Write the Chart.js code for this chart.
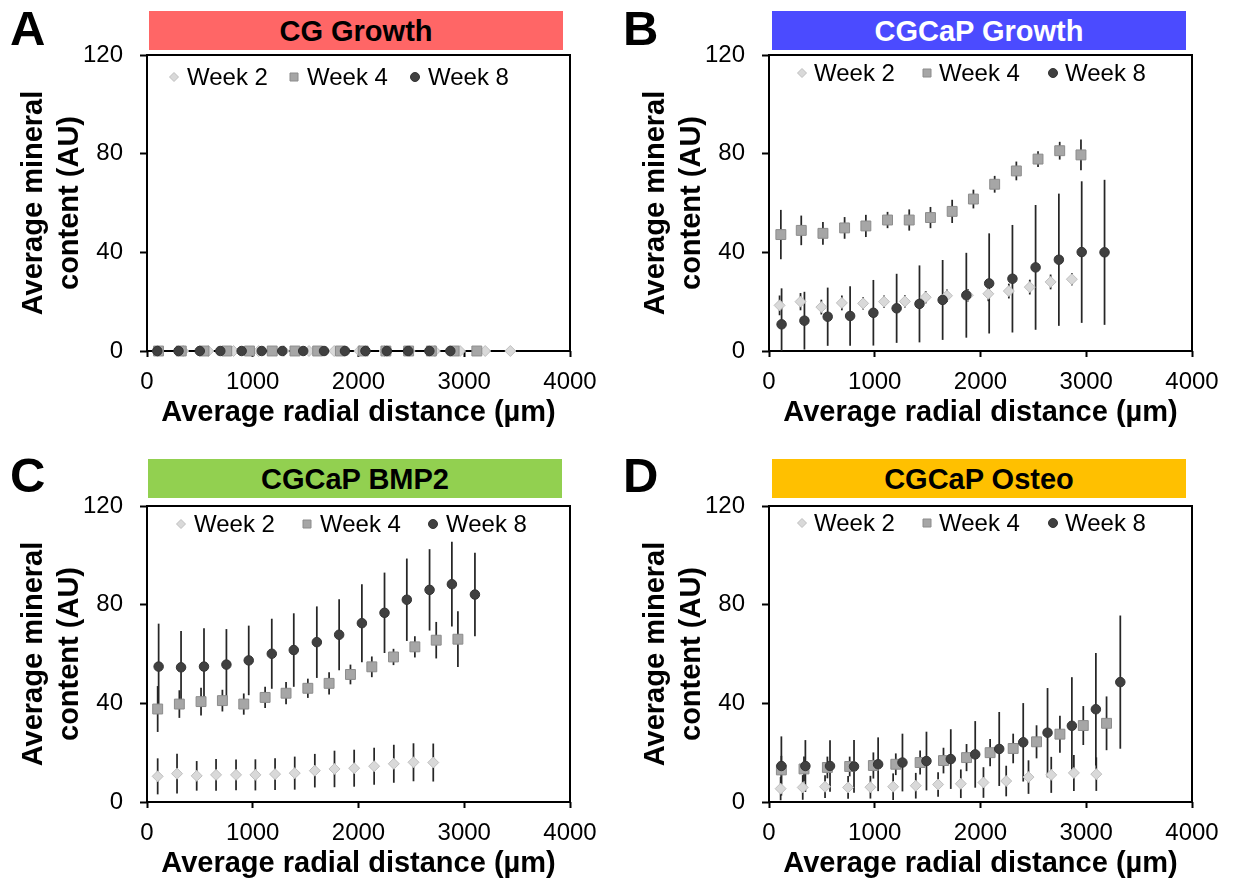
<!DOCTYPE html>
<html>
<head>
<meta charset="utf-8">
<script src="https://cdn.jsdelivr.net/npm/chart.js@4.4.1/dist/chart.umd.min.js"></script>
<style>
  html, body { margin:0; padding:0; background:#fff; width:1233px; height:884px; overflow:hidden;
    font-family:"Liberation Sans", Arial, sans-serif; }
  .panel { position:absolute; width:611px; height:430px; }
  .panel canvas { position:absolute; left:0; top:0; }
  .letter { position:absolute; font-weight:bold; font-size:49px; line-height:49px; color:#000; }
  .bar { position:absolute; width:414px; height:39px; display:flex; align-items:center; justify-content:center;
    font-weight:bold; font-size:29px; box-sizing:border-box; padding-top:2px; }
</style>
</head>
<body>
<div class="letter" style="left:10px;top:4px">A</div>
<div class="letter" style="left:623px;top:4px">B</div>
<div class="letter" style="left:10px;top:451px">C</div>
<div class="letter" style="left:623px;top:451px">D</div>

<div class="bar" id="titleA" style="left:149px;top:11px;background:#FF6666;color:#000"></div>
<div class="bar" id="titleB" style="left:772px;top:11px;background:#4B4BFF;color:#fff"></div>
<div class="bar" id="titleC" style="left:148px;top:459px;background:#92D050;color:#000"></div>
<div class="bar" id="titleD" style="left:772px;top:459px;background:#FFC000;color:#000"></div>

<div class="panel" style="left:0px;top:0px"><canvas id="cA" width="611" height="430"></canvas></div>
<div class="panel" style="left:622px;top:0px"><canvas id="cB" width="611" height="430"></canvas></div>
<div class="panel" style="left:0px;top:451px"><canvas id="cC" width="611" height="430"></canvas></div>
<div class="panel" style="left:622px;top:451px"><canvas id="cD" width="611" height="430"></canvas></div>

<script>
// ---------- data ----------
const xTickValues = [0, 1000, 2000, 3000, 4000];
const yTickValues = [0, 40, 80, 120];
const seriesNames = ['Week 2', 'Week 4', 'Week 8'];
const panelTitles = ['CG Growth', 'CGCaP Growth', 'CGCaP BMP2', 'CGCaP Osteo'];
const yAxisTitle = ['Average mineral', 'content (AU)'];
const xAxisTitle = 'Average radial distance (µm)';

// Panel A: CG Growth
const aWeek2X = [104, 342, 580, 818, 1056, 1294, 1532, 1770, 2008, 2246, 2484, 2722, 2960, 3198, 3436];
const aWeek2Y = [0, 0, 0, 0, 0, 0, 0, 0, 0, 0, 0, 0, 0, 0, 0];
const aWeek2Err = [0, 0, 0, 0, 0, 0, 0, 0, 0, 0, 0, 0, 0, 0, 0];
const aWeek4X = [109, 324, 539, 754, 969, 1184, 1399, 1614, 1829, 2044, 2259, 2474, 2689, 2904, 3119];
const aWeek4Y = [0, 0, 0, 0, 0, 0, 0, 0, 0, 0, 0, 0, 0, 0, 0];
const aWeek4Err = [0, 0, 0, 0, 0, 0, 0, 0, 0, 0, 0, 0, 0, 0, 0];
const aWeek8X = [97, 298, 499, 693, 895, 1085, 1279, 1477, 1674, 1872, 2066, 2268, 2469, 2670, 2868];
const aWeek8Y = [0, 0, 0, 0, 0, 0, 0, 0, 0, 0, 0, 0, 0, 0, 0];
const aWeek8Err = [0, 0, 0, 0, 0, 0, 0, 0, 0, 0, 0, 0, 0, 0, 0];

// Panel B: CGCaP Growth
const bWeek2X = [100, 298, 495, 689, 890, 1088, 1285, 1482, 1683, 1881, 2074, 2268, 2466, 2663, 2864];
const bWeek2Y = [18.5, 20.0, 17.8, 19.5, 19.3, 20.0, 20.1, 21.8, 22.4, 22.6, 23.2, 24.3, 25.9, 28.0, 29.1];
const bWeek2Err = [4, 3.5, 3, 3, 2.5, 2.5, 2.5, 2.5, 2.5, 2.5, 3, 3, 3, 3, 2.5];
const bWeek4X = [112, 305, 510, 715, 916, 1121, 1326, 1527, 1732, 1933, 2134, 2339, 2544, 2749, 2950];
const bWeek4Y = [47.2, 48.9, 47.7, 49.9, 50.7, 53.1, 53.1, 54.1, 56.6, 61.6, 67.6, 73.0, 77.8, 81.2, 79.5];
const bWeek4Err = [10, 6, 4.6, 4.4, 4.5, 3.3, 4.3, 4.3, 4.7, 3.8, 3.4, 3.8, 3.2, 3.6, 6.2];
const bWeek8X = [119, 335, 555, 767, 987, 1207, 1423, 1642, 1866, 2082, 2302, 2521, 2741, 2957, 3173];
const bWeek8Y = [10.8, 12.3, 13.9, 14.2, 15.5, 17.3, 19.1, 20.7, 22.6, 27.4, 29.3, 33.9, 37.0, 40.1, 40.0];
const bWeek8Err = [14.6, 11.7, 11.8, 12.1, 13.3, 14.0, 15.6, 16.2, 17.2, 20.3, 21.8, 25.3, 26.8, 28.7, 29.4];

// Panel C: CGCaP BMP2
const cWeek2X = [101, 284, 470, 653, 842, 1025, 1211, 1397, 1587, 1773, 1959, 2148, 2334, 2520, 2707];
const cWeek2Y = [10.4, 11.5, 10.6, 11.0, 11.0, 11.0, 11.3, 11.7, 12.7, 13.4, 13.7, 14.5, 15.5, 16.1, 16.0];
const cWeek2Err = [7.3, 8.1, 6.0, 6.4, 6.2, 6.3, 6.4, 6.7, 6.8, 7.4, 7.5, 7.5, 7.7, 7.7, 7.7];
const cWeek4X = [101, 306, 511, 713, 915, 1117, 1315, 1521, 1722, 1924, 2126, 2331, 2533, 2735, 2940];
const cWeek4Y = [37.7, 39.7, 40.7, 41.1, 39.7, 42.4, 44.1, 46.1, 48.1, 51.7, 54.8, 58.8, 62.9, 65.6, 66.0];
const cWeek4Err = [9.3, 5.6, 5.6, 4.4, 4.3, 4.3, 4.5, 3.9, 4.5, 4.0, 4.2, 3.3, 4.3, 7.4, 11.3];
const cWeek8X = [110, 322, 539, 751, 962, 1180, 1388, 1606, 1817, 2032, 2246, 2457, 2672, 2883, 3101];
const cWeek8Y = [54.9, 54.6, 54.9, 55.7, 57.4, 60.1, 61.6, 64.8, 67.8, 72.5, 76.7, 82.0, 86.0, 88.3, 84.1];
const cWeek8Err = [17.4, 14.7, 15.5, 14.4, 14.1, 14.2, 14.9, 14.5, 14.4, 15.8, 16.3, 16.7, 16.5, 17.2, 16.9];

// Panel D: CGCaP Osteo
const dWeek2X = [110, 319, 530, 748, 959, 1174, 1388, 1599, 1814, 2028, 2243, 2454, 2669, 2883, 3095];
const dWeek2Y = [5.4, 5.9, 6.2, 5.9, 6.0, 6.2, 6.6, 7.1, 7.4, 7.9, 8.5, 10.1, 11.0, 11.8, 11.3];
const dWeek2Err = [4.7, 5.0, 4.6, 4.6, 4.6, 5.4, 5.2, 5.0, 5.8, 6.2, 6.2, 6.8, 7.3, 7.3, 6.8];
const dWeek4X = [117, 331, 552, 763, 987, 1199, 1429, 1650, 1868, 2091, 2309, 2530, 2751, 2972, 3192];
const dWeek4Y = [13.0, 13.4, 14.0, 14.4, 14.8, 15.3, 16.0, 16.8, 18.0, 20.0, 21.7, 24.4, 27.5, 31.0, 31.9];
const dWeek4Err = [5.7, 5.0, 4.4, 4.0, 5.3, 4.4, 4.9, 5.2, 5.5, 5.5, 6.0, 6.7, 7.5, 7.9, 10.9];
const dWeek8X = [117, 344, 577, 804, 1032, 1262, 1489, 1719, 1950, 2177, 2404, 2634, 2864, 3091, 3322];
const dWeek8Y = [14.6, 14.6, 14.6, 14.4, 15.3, 16.0, 16.6, 17.4, 19.3, 21.5, 24.2, 28.1, 30.9, 37.6, 48.6];
const dWeek8Err = [12, 10.5, 10.4, 10.7, 10.9, 11.7, 11.9, 12.1, 13.5, 15.0, 15.9, 18.1, 19.7, 22.8, 27.0];

// ---------- styling ----------
const FONT = '"Liberation Sans", Arial, Helvetica, sans-serif';
Chart.defaults.font.family = FONT;
Chart.defaults.color = '#000';

const seriesStyle = [
  { pointStyle: 'rectRot', radius: 5.5, bg: '#D9D9D9', border: '#BFBFBF', order: 2 },
  { pointStyle: 'rect',    radius: 7,   bg: '#A6A6A6', border: '#8C8C8C', order: 1 },
  { pointStyle: 'circle',  radius: 4.75, bg: '#404040', border: '#333333', order: 0 }
];

function toPoints(xs, ys) { return xs.map((x, i) => ({ x: x, y: ys[i] })); }

const framePlugin = {
  id: 'frame',
  beforeDatasetsDraw(chart) {
    const { ctx, chartArea: a } = chart;
    ctx.save();
    ctx.strokeStyle = '#000';
    ctx.lineWidth = 2;
    ctx.strokeRect(a.left, a.top, a.right - a.left, a.bottom - a.top);
    ctx.restore();
  }
};

const errorBarPlugin = {
  id: 'errorBars',
  beforeDatasetsDraw(chart) {
    const { ctx, chartArea: a, scales } = chart;
    ctx.save();
    ctx.beginPath();
    ctx.rect(a.left, a.top, a.right - a.left, a.bottom - a.top);
    ctx.clip();
    ctx.strokeStyle = '#262626';
    ctx.lineWidth = 1.75;
    chart.data.datasets.forEach(ds => {
      const errs = ds.errors || [];
      ds.data.forEach((p, i) => {
        const e = errs[i];
        if (!e) return;
        const px = scales.x.getPixelForValue(p.x);
        ctx.beginPath();
        ctx.moveTo(px, scales.y.getPixelForValue(p.y - e));
        ctx.lineTo(px, scales.y.getPixelForValue(p.y + e));
        ctx.stroke();
      });
    });
    ctx.restore();
  }
};

function makeLegendPlugin(layout) {
  return {
    id: 'insideLegend',
    afterDraw(chart) {
      const { ctx, chartArea: a } = chart;
      const y = a.top + layout.dy;
      ctx.save();
      ctx.font = '24px ' + FONT;
      ctx.textBaseline = 'middle';
      seriesNames.forEach((name, i) => {
        const mx = a.left + layout.dx[i];
        const st = seriesStyle[i];
        ctx.fillStyle = st.bg;
        ctx.strokeStyle = st.border;
        ctx.lineWidth = 1;
        ctx.beginPath();
        if (i === 0) {
          const r = 4.5;
          ctx.moveTo(mx - r, y); ctx.lineTo(mx, y - r); ctx.lineTo(mx + r, y); ctx.lineTo(mx, y + r); ctx.closePath();
        } else if (i === 1) {
          ctx.rect(mx - 4, y - 4, 8, 8);
        } else {
          ctx.arc(mx, y, 4.5, 0, Math.PI * 2);
        }
        ctx.fill();
        ctx.stroke();
        ctx.fillStyle = '#000';
        ctx.fillText(name, mx + layout.gap, y + 1);
      });
      ctx.restore();
    }
  };
}

function makeChart(canvasId, series, legendLayout) {
  const datasets = series.map((s, i) => ({
    label: seriesNames[i],
    data: toPoints(s.x, s.y),
    errors: s.err,
    pointStyle: seriesStyle[i].pointStyle,
    pointRadius: seriesStyle[i].radius,
    pointBackgroundColor: seriesStyle[i].bg,
    pointBorderColor: seriesStyle[i].border,
    pointBorderWidth: 1,
    showLine: false,
    clip: false,
    order: seriesStyle[i].order
  }));
  return new Chart(document.getElementById(canvasId), {
    type: 'scatter',
    data: { datasets },
    options: {
      responsive: false,
      animation: false,
      devicePixelRatio: 1,
      events: [],
      layout: { padding: { top: 55, right: 41, left: 0, bottom: 0 } },
      plugins: { legend: { display: false }, tooltip: { enabled: false } },
      scales: {
        x: {
          type: 'linear', position: 'bottom', min: 0, max: 4000,
          afterBuildTicks: s => { s.ticks = xTickValues.map(v => ({ value: v })); },
          afterFit: s => { s.height = 79; },
          grid: { display: true, drawOnChartArea: false, drawTicks: true, tickLength: 6, tickWidth: 2, tickColor: '#000' },
          border: { display: false },
          ticks: { autoSkip: false, maxRotation: 0, minRotation: 0, padding: 11, color: '#000', font: { size: 24 },
                   callback: v => String(v) },
          title: { display: true, text: xAxisTitle, color: '#000',
                   font: { size: 29, weight: 'bold', lineHeight: 1.2 }, padding: { top: 0, bottom: 0 } }
        },
        y: {
          type: 'linear', position: 'left', min: 0, max: 120,
          afterBuildTicks: s => { s.ticks = yTickValues.map(v => ({ value: v })); },
          afterFit: s => { s.width = 147; },
          grid: { display: true, drawOnChartArea: false, drawTicks: true, tickLength: 7, tickWidth: 2, tickColor: '#000' },
          border: { display: false },
          ticks: { autoSkip: false, padding: 17, color: '#000', font: { size: 24 }, callback: v => String(v) },
          title: { display: true, text: yAxisTitle, color: '#000',
                   font: { size: 29, weight: 'bold', lineHeight: 36 / 29 }, padding: { top: 16, bottom: 0 } }
        }
      }
    },
    plugins: [framePlugin, errorBarPlugin, makeLegendPlugin(legendLayout)]
  });
}

document.getElementById('titleA').textContent = panelTitles[0];
document.getElementById('titleB').textContent = panelTitles[1];
document.getElementById('titleC').textContent = panelTitles[2];
document.getElementById('titleD').textContent = panelTitles[3];

makeChart('cA', [
  { x: aWeek2X, y: aWeek2Y, err: aWeek2Err },
  { x: aWeek4X, y: aWeek4Y, err: aWeek4Err },
  { x: aWeek8X, y: aWeek8Y, err: aWeek8Err }
], { dy: 22, dx: [27, 147, 268], gap: 13 });

makeChart('cB', [
  { x: bWeek2X, y: bWeek2Y, err: bWeek2Err },
  { x: bWeek4X, y: bWeek4Y, err: bWeek4Err },
  { x: bWeek8X, y: bWeek8Y, err: bWeek8Err }
], { dy: 18, dx: [33, 158, 284], gap: 12 });

makeChart('cC', [
  { x: cWeek2X, y: cWeek2Y, err: cWeek2Err },
  { x: cWeek4X, y: cWeek4Y, err: cWeek4Err },
  { x: cWeek8X, y: cWeek8Y, err: cWeek8Err }
], { dy: 18, dx: [34, 160, 286], gap: 13 });

makeChart('cD', [
  { x: dWeek2X, y: dWeek2Y, err: dWeek2Err },
  { x: dWeek4X, y: dWeek4Y, err: dWeek4Err },
  { x: dWeek8X, y: dWeek8Y, err: dWeek8Err }
], { dy: 17, dx: [33, 158, 284], gap: 12 });
</script>
</body>
</html>
